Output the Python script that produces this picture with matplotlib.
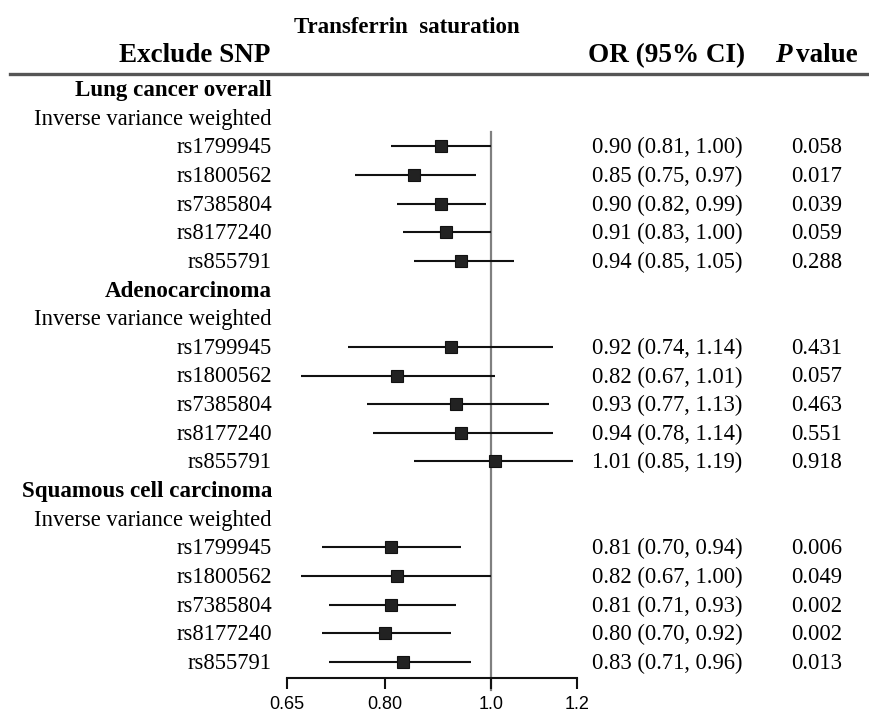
import matplotlib
matplotlib.use("Agg")
import matplotlib.pyplot as plt
import matplotlib.transforms as mtransforms

W, H = 869, 719

groups = ["Lung cancer overall", "Adenocarcinoma", "Squamous cell carcinoma"]
method = "Inverse variance weighted"
snps = ["rs1799945", "rs1800562", "rs7385804", "rs8177240", "rs855791"]

or_lung = [0.90, 0.85, 0.90, 0.91, 0.94]
lo_lung = [0.81, 0.75, 0.82, 0.83, 0.85]
hi_lung = [1.00, 0.97, 0.99, 1.00, 1.05]
p_lung = ["0.058", "0.017", "0.039", "0.059", "0.288"]

or_adeno = [0.92, 0.82, 0.93, 0.94, 1.01]
lo_adeno = [0.74, 0.67, 0.77, 0.78, 0.85]
hi_adeno = [1.14, 1.01, 1.13, 1.14, 1.19]
p_adeno = ["0.431", "0.057", "0.463", "0.551", "0.918"]

or_squam = [0.81, 0.82, 0.81, 0.80, 0.83]
lo_squam = [0.70, 0.67, 0.71, 0.70, 0.71]
hi_squam = [0.94, 1.00, 0.93, 0.92, 0.96]
p_squam = ["0.006", "0.049", "0.002", "0.002", "0.013"]

xticks = [0.65, 0.80, 1.0, 1.2]
xtick_labels = ["0.65", "0.80", "1.0", "1.2"]

series = [
    (or_lung, lo_lung, hi_lung, p_lung),
    (or_adeno, lo_adeno, hi_adeno, p_adeno),
    (or_squam, lo_squam, hi_squam, p_squam),
]

fig = plt.figure(figsize=(W / 100, H / 100), dpi=100)

def fx(px):
    return px / W

def fy(py):
    return 1 - py / H

row0 = 89.0
step = 28.65
ax_top, ax_bot = 80.0, 678.0
ax_left, ax_right = 287.0, 577.0
ax = fig.add_axes([fx(ax_left), fy(ax_bot), (ax_right - ax_left) / W, (ax_bot - ax_top) / H])
ax.set_xscale("log")
ax.set_xlim(0.65, 1.2)
ax.set_ylim((ax_bot - row0) / step, (ax_top - row0) / step)
ax.patch.set_visible(False)
for s in ["top", "left", "right"]:
    ax.spines[s].set_visible(False)
ax.spines["bottom"].set_linewidth(1.5)
ax.spines["bottom"].set_color("#111111")
ax.set_yticks([])
ax.set_xticks(xticks)
ax.set_xticklabels(xtick_labels, fontfamily="Liberation Sans", fontsize=13)
ax.xaxis.set_minor_locator(matplotlib.ticker.NullLocator())
ax.tick_params(axis="x", length=8, width=1.5, color="#111111", pad=5)

# reference line
ax.plot([1.0, 1.0], [(132 - row0) / step, (690 - row0) / step], color="#808080",
        lw=1.6, clip_on=False, zorder=1)

shift = mtransforms.ScaledTranslation(0, -1.5 / 100, fig.dpi_scale_trans)
trans_lab = mtransforms.blended_transform_factory(fig.transFigure, ax.transData) + shift
serif = "Liberation Serif"
fs = 16.3

row = 0
for g, (orv, lo, hi, pv) in zip(groups, series):
    ax.text(fx(272), row, g, transform=trans_lab, ha="right", va="center",
            fontfamily=serif, fontweight="bold", fontsize=16.6)
    row += 1
    ax.text(fx(272), row, method, transform=trans_lab, ha="right", va="center",
            fontfamily=serif, fontsize=fs)
    row += 1
    for snp, o, l, h, p in zip(snps, orv, lo, hi, pv):
        ax.text(fx(272), row, snp, transform=trans_lab, ha="right", va="center",
                fontfamily=serif, fontsize=fs)
        ax.plot([l, h], [row, row], color="#111111", lw=1.5, zorder=2, solid_capstyle="butt")
        ax.plot([o], [row], marker="s", ms=9.3, color="#222222", mec="#111111",
                mew=0.8, zorder=3)
        ax.text(fx(592), row, f"{o:.2f} ({l:.2f}, {h:.2f})", transform=trans_lab,
                ha="left", va="center", fontfamily=serif, fontsize=fs)
        ax.text(fx(817), row, p, transform=trans_lab, ha="center", va="center",
                fontfamily=serif, fontsize=fs)
        row += 1

# headers
fig.text(fx(407), fy(33), "Transferrin  saturation", ha="center", va="baseline",
         fontfamily=serif, fontweight="bold", fontsize=16.5)
fig.text(fx(270), fy(62), "Exclude SNP", ha="right", va="baseline",
         fontfamily=serif, fontweight="bold", fontsize=19.5)
fig.text(fx(745), fy(62), "OR (95% CI)", ha="right", va="baseline",
         fontfamily=serif, fontweight="bold", fontsize=19.5)
fig.text(fx(775), fy(62), "P", ha="left", va="baseline",
         fontfamily=serif, fontweight="bold", fontstyle="italic", fontsize=19.5)
fig.text(fx(858), fy(62), "value", ha="right", va="baseline",
         fontfamily=serif, fontweight="bold", fontsize=19.5)

fig.add_artist(plt.Line2D([fx(10), fx(869)], [fy(74), fy(74)], transform=fig.transFigure,
                          color="#555555", lw=2.4))

fig.savefig("out.png", dpi=100)
